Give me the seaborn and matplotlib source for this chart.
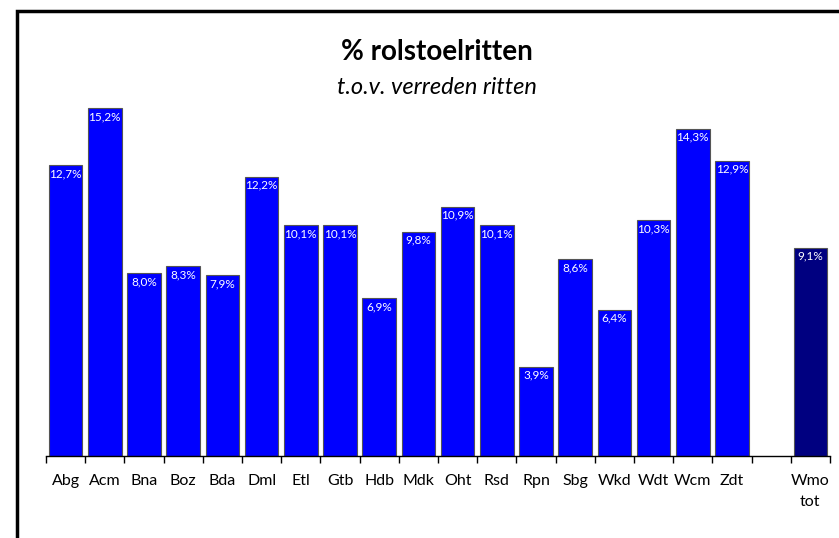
import matplotlib
matplotlib.use("Agg")
import matplotlib.pyplot as plt
import seaborn as sns
import pandas as pd
from matplotlib.patches import Rectangle
from matplotlib.ticker import FixedLocator

categories = ["Abg", "Acm", "Bna", "Boz", "Bda", "Dml", "Etl", "Gtb", "Hdb", "Mdk",
              "Oht", "Rsd", "Rpn", "Sbg", "Wkd", "Wdt", "Wcm", "Zdt", "Wmo\ntot"]
values = [12.7, 15.2, 8.0, 8.3, 7.9, 12.2, 10.1, 10.1, 6.9, 9.8,
          10.9, 10.1, 3.9, 8.6, 6.4, 10.3, 14.3, 12.9, 9.1]
gap_label = " "

sns.set_theme(style="white")
plt.rcParams['font.family'] = ['Lato', 'DejaVu Sans']

order = categories[:-1] + [gap_label] + [categories[-1]]
df = pd.DataFrame({"cat": categories, "val": values})
palette = {c: "#0000FF" for c in categories}
palette[categories[-1]] = "#000080"
palette[gap_label] = "#0000FF"

fig = plt.figure(figsize=(8.39, 5.38), dpi=100)
W, H = 839, 538
ax = fig.add_axes([46 / W, (H - 456) / H, (830 - 46) / W, (456 - 90) / H])

sns.barplot(data=df, x="cat", y="val", hue="cat", order=order, hue_order=order,
            palette=palette, saturation=1, legend=False, width=0.86,
            edgecolor="#555555", linewidth=0.8, ax=ax)

ax.set_xlim(-0.5, len(order) - 0.5)
ax.set_ylim(0, 16)
ax.set_xlabel("")
ax.set_ylabel("")
ax.set_yticks([])
for s in ["top", "right", "left"]:
    ax.spines[s].set_visible(False)
ax.spines["bottom"].set_color("black")
ax.spines["bottom"].set_linewidth(1.0)

ax.xaxis.set_minor_locator(FixedLocator([i - 0.5 for i in range(len(order) + 1)]))
ax.tick_params(axis="x", which="major", length=0, labelsize=11.5, pad=13, colors="black")
ax.tick_params(axis="x", which="minor", length=5, width=1, color="black", bottom=True)
for lbl in ax.get_xticklabels():
    lbl.set_verticalalignment("top")
    lbl.set_linespacing(1.6)

pos = {c: i for i, c in enumerate(order)}
for c, v in zip(categories, values):
    ax.text(pos[c], v - 0.13, f"{v:.1f}%".replace(".", ","), ha="center", va="top",
            color="white", fontsize=8.5)

fig.text(437 / W, 1 - 52 / H, "% rolstoelritten", ha="center", va="center",
         fontsize=20, fontweight="bold", color="black")
fig.text(437 / W, 1 - 88 / H, "t.o.v. verreden ritten", ha="center", va="center",
         fontsize=17, style="italic", color="black")

fig.patches.append(Rectangle((17 / W, -0.1), 1.2, 1 - 11 / H + 0.1, transform=fig.transFigure,
                             fill=False, edgecolor="black", linewidth=2.5, figure=fig))

fig.savefig("out.png", dpi=100)
